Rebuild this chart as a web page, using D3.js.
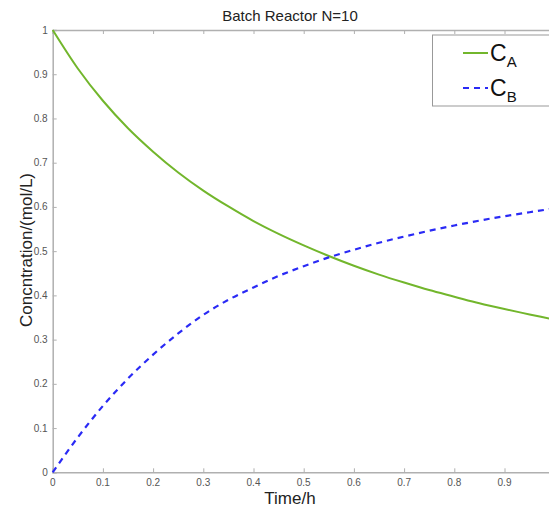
<!DOCTYPE html>
<html>
<head>
<meta charset="utf-8">
<script src="https://cdn.jsdelivr.net/npm/d3@7"></script>
<style>
  body { margin: 0; background: #fff; }
  text { font-family: "Liberation Sans", Arial, sans-serif; }
</style>
</head>
<body>
<div id="chart"></div>
<script>
//Data
var time = [0, 0.05, 0.1, 0.15, 0.2, 0.25, 0.3, 0.35, 0.4, 0.45, 0.5, 0.55, 0.6, 0.65, 0.7, 0.75, 0.8, 0.85, 0.9, 0.95, 1.0];
var concA = [1.000, 0.913, 0.840, 0.778, 0.725, 0.678, 0.637, 0.601, 0.568, 0.539, 0.513, 0.489, 0.467, 0.447, 0.429, 0.412, 0.397, 0.382, 0.369, 0.357, 0.345];
var concB = [0.000, 0.079, 0.150, 0.212, 0.266, 0.314, 0.356, 0.390, 0.418, 0.444, 0.466, 0.486, 0.503, 0.519, 0.533, 0.546, 0.558, 0.569, 0.579, 0.588, 0.597];
var xTicks = [0, 0.1, 0.2, 0.3, 0.4, 0.5, 0.6, 0.7, 0.8, 0.9];
var yTicks = [0, 0.1, 0.2, 0.3, 0.4, 0.5, 0.6, 0.7, 0.8, 0.9, 1];

var width = 549, height = 508;
var plotLeft = 52.7, plotRight = 554.7, plotTop = 30, plotBottom = 472.3;

var svg = d3.select("#chart")
    .append("svg")
    .attr("width", width)
    .attr("height", height);

var x = d3.scaleLinear().domain([0, 1]).range([plotLeft, plotRight]);
var y = d3.scaleLinear().domain([0, 1]).range([plotBottom, plotTop]);

//axes, ticks pointing inward
var axisColor = "#b0b0b0";
var bottomAxis = svg.append("g")
    .attr("transform", "translate(0," + plotBottom + ")")
    .call(d3.axisTop(x).tickValues(xTicks).tickSize(4).tickFormat(""));
var topAxis = svg.append("g")
    .attr("transform", "translate(0," + plotTop + ")")
    .call(d3.axisBottom(x).tickValues(xTicks).tickSize(4).tickFormat(""));
var leftAxis = svg.append("g")
    .attr("transform", "translate(" + plotLeft + ",0)")
    .call(d3.axisRight(y).tickValues(yTicks).tickSize(4).tickFormat(""));
[bottomAxis, topAxis, leftAxis].forEach(function (g) {
    g.select(".domain").attr("stroke", axisColor).attr("stroke-width", 1.5);
    g.selectAll(".tick line").attr("stroke", axisColor);
});

//tick labels
svg.selectAll(".xlab")
    .data(xTicks)
    .enter()
    .append("text")
    .attr("x", function (d) { return x(d); })
    .attr("y", plotBottom + 14)
    .attr("text-anchor", "middle")
    .attr("font-size", "10px")
    .attr("fill", "#555")
    .text(function (d) { return d; });

svg.selectAll(".ylab")
    .data(yTicks)
    .enter()
    .append("text")
    .attr("x", plotLeft - 5)
    .attr("y", function (d) { return y(d) + 3.5; })
    .attr("text-anchor", "end")
    .attr("font-size", "10px")
    .attr("fill", "#555")
    .text(function (d) { return d; });

//lines
var line = d3.line()
    .x(function (d, i) { return x(time[i]); })
    .y(function (d) { return y(d); })
    .curve(d3.curveMonotoneX);

svg.append("path")
    .attr("d", line(concA))
    .attr("fill", "none")
    .attr("stroke", "#72b62c")
    .attr("stroke-width", 2);

svg.append("path")
    .attr("d", line(concB))
    .attr("fill", "none")
    .attr("stroke", "#2a2af5")
    .attr("stroke-width", 2.2)
    .attr("stroke-dasharray", "6,5");

//title and axis labels
svg.append("text")
    .attr("x", 290)
    .attr("y", 21)
    .attr("text-anchor", "middle")
    .attr("font-size", "15px")
    .attr("fill", "#222")
    .text("Batch Reactor N=10");

svg.append("text")
    .attr("x", 290)
    .attr("y", 504)
    .attr("text-anchor", "middle")
    .attr("font-size", "17px")
    .attr("fill", "#222")
    .text("Time/h");

svg.append("text")
    .attr("transform", "translate(32,250) rotate(-90)")
    .attr("text-anchor", "middle")
    .attr("font-size", "17px")
    .attr("fill", "#222")
    .text("Concntration/(mol/L)");

//legend
var legend = svg.append("g");
legend.append("rect")
    .attr("x", 432.5)
    .attr("y", 35)
    .attr("width", 130)
    .attr("height", 71)
    .attr("fill", "#fff")
    .attr("stroke", "#999")
    .attr("stroke-width", 1);

var legendData = [
    { "name": "A", "color": "#72b62c", "dash": null, "cy": 53 },
    { "name": "B", "color": "#2a2af5", "dash": "6,5", "cy": 88 }
];

legend.selectAll("line")
    .data(legendData)
    .enter()
    .append("line")
    .attr("x1", 463)
    .attr("x2", 488)
    .attr("y1", function (d) { return d.cy; })
    .attr("y2", function (d) { return d.cy; })
    .attr("stroke", function (d) { return d.color; })
    .attr("stroke-width", 2)
    .attr("stroke-dasharray", function (d) { return d.dash; });

var legText = legend.selectAll(".legtext")
    .data(legendData)
    .enter()
    .append("text")
    .attr("x", 490)
    .attr("y", function (d) { return d.cy + 8; })
    .attr("font-size", "23px")
    .attr("fill", "#111");
legText.append("tspan").text("C");
legText.append("tspan")
    .attr("dy", 6)
    .attr("font-size", "15px")
    .text(function (d) { return d.name; });
</script>
</body>
</html>
